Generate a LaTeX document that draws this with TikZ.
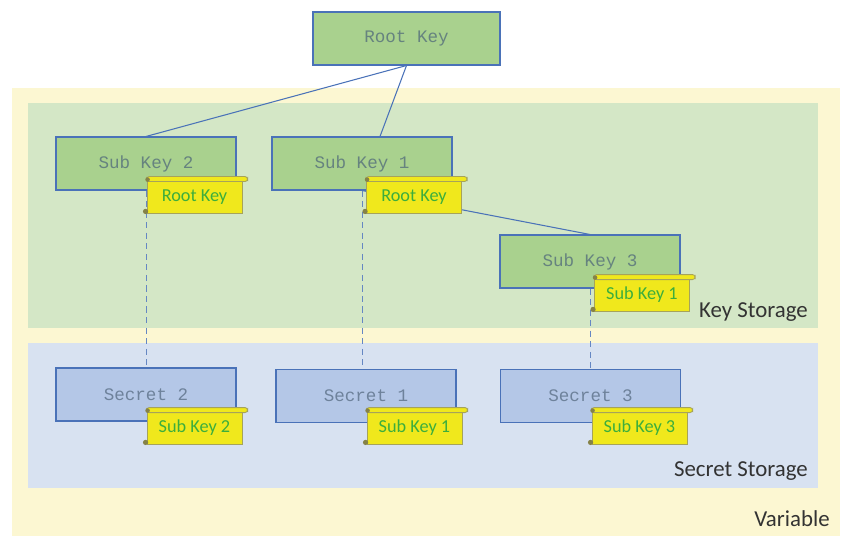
\documentclass[tikz,border=0pt]{standalone}
\usepackage{fontspec}
\setmainfont{Carlito}
\setmonofont{Liberation Mono}
\usepackage{tikz}
\usetikzlibrary{calc}
\definecolor{varbg}{HTML}{FCF7D2}
\definecolor{keybg}{HTML}{D4E7C6}
\definecolor{secbg}{HTML}{D8E2F1}
\definecolor{keyfill}{HTML}{A9D18E}
\definecolor{secfill}{HTML}{B4C7E7}
\definecolor{edge}{HTML}{4A72B8}
\definecolor{tagfill}{HTML}{F0E81C}
\definecolor{tagline}{HTML}{A6A35A}
\definecolor{tagtext}{HTML}{3CAE3C}
\definecolor{monotext}{HTML}{66837F}
\definecolor{sectext}{HTML}{6E829B}
\definecolor{lbltext}{HTML}{333333}

\begin{document}
\begin{tikzpicture}[
    x=0.02cm, y=-0.02cm,
    keybox/.style={draw=edge, line width=0.6pt, fill=keyfill, minimum width=3.6cm,
                   minimum height=1.06cm, font=\ttfamily\fontsize{10}{12}\selectfont,
                   text=monotext, inner sep=0pt},
    secbox/.style={keybox, fill=secfill, text=sectext},
    tag/.style={draw=tagline, line width=0.5pt, fill=tagfill, minimum width=1.9cm,
                minimum height=0.64cm, inner sep=0pt, text=tagtext,
                font=\fontsize{10.4}{12}\selectfont},
    roll/.style={draw=tagline, line width=0.5pt, fill=tagfill, rounded corners=1.5pt},
    curl/.style={fill=tagline!80!black},
    link/.style={edge, line width=0.6pt},
    dashlink/.style={edge!85, line width=0.5pt, dash pattern=on 3.5pt off 2.5pt},
    area/.style={font=\fontsize{13}{15}\selectfont, text=lbltext, anchor=east, inner sep=0pt}
  ]
    \useasboundingbox (0,0) rectangle (855,553);

    % storage areas
    \fill[varbg] (12,88) rectangle (840,536);
    \fill[keybg] (28,103) rectangle (818,328);
    \fill[secbg] (28,343) rectangle (818,488);

    \node[area] (lblkey) at (808,312) {Key Storage};
    \node[area] (lblsec) at (808,471) {Secret Storage};
    \node[area] (lblvar) at (830,519) {Variable};

    \node[keybox, minimum width=3.74cm] (root) at (406.5,38.5) {Root Key};
    \node[keybox] (sub2) at (146,163.5) {Sub Key 2};
    \node[keybox] (sub1) at (362,163.5) {Sub Key 1};
    \node[keybox] (sub3) at (590,261.5) {Sub Key 3};

    \node[secbox] (sec2) at (146,394.5) {Secret 2};
    \node[secbox] (sec1) at (366,396) {Secret 1};
    \node[secbox] (sec3) at (590.5,396) {Secret 3};

    \draw[link] (root.south) -- (sub2.north);
    \draw[link] (root.south) -- ($(sub1.north)+(18,0)$);
    \draw[link] (sub1.south) -- (sub3.north);

    \draw[dashlink] (sub2.south) -- (sec2.north);
    \draw[dashlink] (sub1.south) -- (sub1.south |- sec1.north);
    \draw[dashlink] (sub3.south) -- (sub3.south |- sec3.north);

    % key tags
    \foreach \nm/\x/\y/\txt in {tagsub2/194.5/197/Root Key, tagsub1/414/197/Root Key,
                                tagsub3/642/295/Sub Key 1, tagsec2/194.5/428/Sub Key 2,
                                tagsec1/414.5/428/Sub Key 1, tagsec3/639.5/428/Sub Key 3} {
      \node[tag] (\nm) at (\x,\y) {\txt};
      \draw[roll] ($(\nm.north west)+(0,1)$) rectangle ++(101,-5);
      \fill[curl] ($(\nm.north west)+(1,-1)$) circle (1.3pt);
      \fill[curl] ($(\nm.south west)+(-1,-2)$) circle (1.5pt);
    }
  \end{tikzpicture}
\end{document}
